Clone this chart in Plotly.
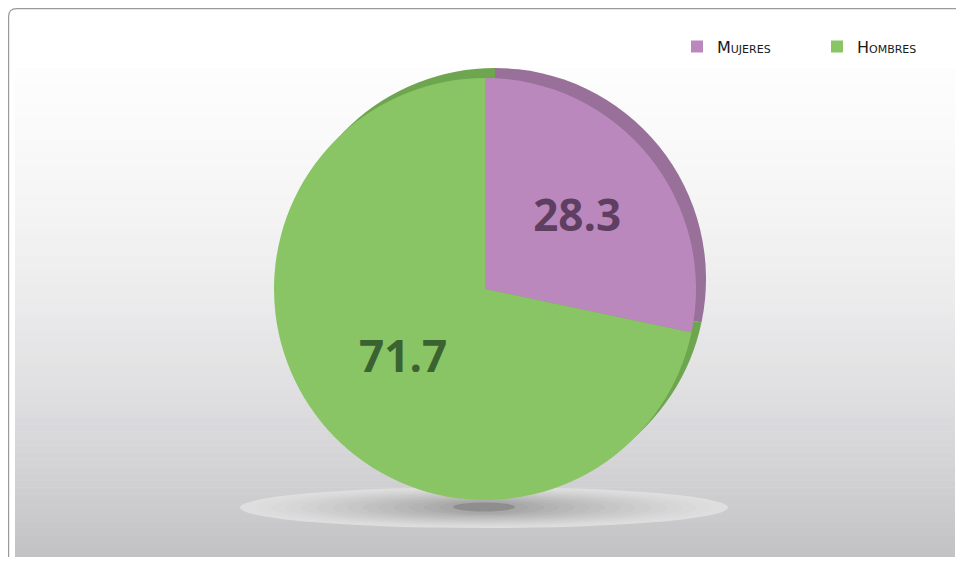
import plotly.graph_objects as go

# ---- data ----
labels = ["Mujeres", "Hombres"]
values = [28.3, 71.7]
slice_colors = ["#BB88BD", "#8AC565"]
rim_colors = ["#98709A", "#6EA650"]
label_colors = ["#5E3F62", "#3B6332"]

OFF = 8  # page body margin offset
W, H = 964 - OFF, 565 - 2 * OFF


def px(x):
    return (x - OFF) / W


def py(y):
    return 1 - (y - OFF) / H


shapes = []

# background gradient panel (screen x 15-955, y 68-557)
top, bot = 68, 557
n = 70
for i in range(n):
    y0 = top + (bot - top) * i / n
    y1 = min(bot, top + (bot - top) * (i + 1) / n + 0.6)
    t = (i + 0.5) / n
    v = 253 - 19.2 * t - 39.8 * t * t
    r = int(round(v))
    b = int(round(v + 3 * t))
    shapes.append(dict(type="rect", xref="paper", yref="paper",
                       x0=px(15), x1=px(955), y0=py(y1), y1=py(y0),
                       fillcolor=f"rgb({r},{r},{b})", line=dict(width=0),
                       layer="below"))

# floor shadow ellipses (smooth gradient)
cx, cy = 484, 507.5
steps = 14
for k in range(steps):
    t = k / (steps - 1)
    hw = 244 - (244 - 45) * t
    hh = 20.5 - (20.5 - 6.5) * t
    c = int(round(222 - (222 - 168) * t ** 1.3))
    shapes.append(dict(type="circle", xref="paper", yref="paper",
                       x0=px(cx - hw), x1=px(cx + hw),
                       y0=py(cy + hh), y1=py(cy - hh),
                       fillcolor=f"rgb({c},{c},{c})", line=dict(width=0),
                       layer="below"))
shapes.append(dict(type="circle", xref="paper", yref="paper",
                   x0=px(453), x1=px(515), y0=py(511.5), y1=py(502.5),
                   fillcolor="#8E8E8E", line=dict(width=0), layer="below"))

# outer rounded frame (as close to the top-left as the page allows)
L, T, R, B = 8.6, 8.6, 963, 590
rr = 8
path = (f"M {px(L)},{py(T+rr)} Q {px(L)},{py(T)} {px(L+rr)},{py(T)} "
        f"L {px(R-rr)},{py(T)} Q {px(R)},{py(T)} {px(R)},{py(T+rr)} "
        f"L {px(R)},{py(B)} L {px(L)},{py(B)} Z")
shapes.append(dict(type="path", xref="paper", yref="paper", path=path,
                   line=dict(color="#9A9A9A", width=1.2), layer="above"))

fig = go.Figure()

# darker rim (3D edge) behind the main pie
fig.add_trace(go.Pie(
    labels=labels, values=values, sort=False, direction="clockwise",
    rotation=0, marker=dict(colors=rim_colors, line=dict(width=0)),
    textinfo="none", hoverinfo="skip", showlegend=False,
    domain=dict(x=[px(283), px(707)], y=[py(490), py(68)]),
))

# main pie
fig.add_trace(go.Pie(
    labels=labels, values=values, sort=False, direction="clockwise",
    rotation=0, marker=dict(colors=slice_colors, line=dict(width=0)),
    texttemplate="%{value:.1f}", textposition="inside",
    insidetextorientation="horizontal",
    textfont=dict(family="Open Sans", size=44, color=label_colors,
                  weight=700),
    domain=dict(x=[px(273), px(697)], y=[py(500), py(78)]),
))

fig.update_layout(
    width=W, height=H,
    margin=dict(l=0, r=0, t=0, b=0, autoexpand=False),
    paper_bgcolor="white",
    plot_bgcolor="white",
    shapes=shapes,
    showlegend=True,
    legend=dict(orientation="h", x=px(677), xanchor="left",
                y=py(46.5), yanchor="middle",
                entrywidth=95, entrywidthmode="pixels",
                bgcolor="rgba(0,0,0,0)",
                font=dict(family="DejaVu Sans", size=16, color="#1A1A1A",
                          variant="small-caps"),
                traceorder="normal"),
)

fig.write_html("out.html")
